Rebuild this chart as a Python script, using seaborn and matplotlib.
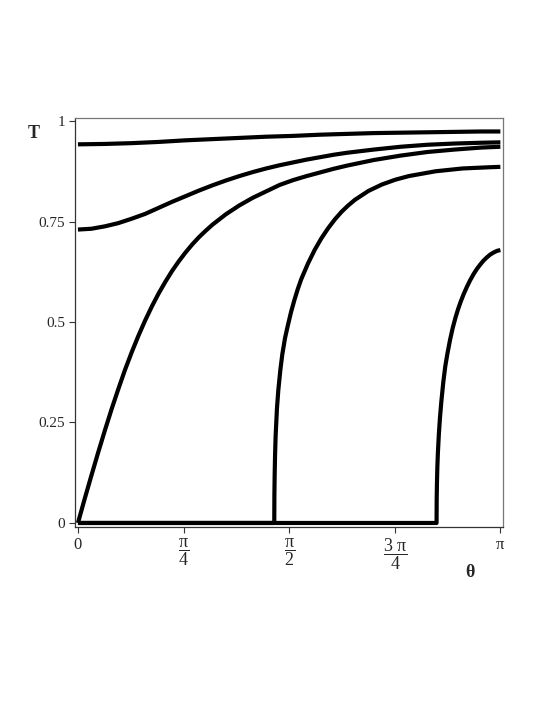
import numpy as np
import pandas as pd
import seaborn as sns
import matplotlib.pyplot as plt

PI = np.pi

# curve readings (theta in rad, T)
th1 = [0.0, 0.2, 0.4, 0.6, 0.8, 1.0, 1.2, 1.4, 1.6, 1.8, 2.0, 2.2, 2.4, 2.6, 2.8,
       3.0, PI]
t1 = [0.942, 0.943, 0.945, 0.948, 0.952, 0.955, 0.958, 0.961, 0.963, 0.966, 0.968,
      0.970, 0.971, 0.972, 0.973, 0.974, 0.974]

th2 = [0.0, 0.1, 0.2, 0.3, 0.4, 0.5, 0.6, 0.7, 0.8, 0.9, 1.0, 1.1, 1.2, 1.3, 1.4,
       1.5, 1.6, 1.7, 1.8, 1.9, 2.0, 2.2, 2.4, 2.6, 2.8, 3.0, PI]
t2 = [0.730, 0.732, 0.738, 0.746, 0.757, 0.769, 0.784, 0.799, 0.813, 0.827, 0.840,
      0.852, 0.863, 0.873, 0.882, 0.890, 0.897, 0.904, 0.910, 0.916, 0.921, 0.929,
      0.936, 0.941, 0.944, 0.946, 0.947]

th3 = [0.0, 0.05, 0.1, 0.15, 0.2, 0.25, 0.3, 0.35, 0.4, 0.45, 0.5, 0.55, 0.6, 0.65,
       0.7, 0.75, 0.8, 0.85, 0.9, 0.95, 1.0, 1.1, 1.2, 1.3, 1.4, 1.5, 1.6, 1.7, 1.8,
       1.9, 2.0, 2.2, 2.4, 2.6, 2.8, 3.0, PI]
t3 = [0.0, 0.060, 0.118, 0.175, 0.230, 0.283, 0.333, 0.381, 0.425, 0.466, 0.504,
      0.539, 0.571, 0.600, 0.627, 0.651, 0.673, 0.693, 0.711, 0.727, 0.742, 0.768,
      0.790, 0.809, 0.825, 0.841, 0.853, 0.863, 0.872, 0.881, 0.889, 0.903, 0.914,
      0.923, 0.929, 0.934, 0.936]

th4 = [0.0, 1.460, 1.461, 1.463, 1.466, 1.470, 1.480, 1.490, 1.505, 1.520, 1.540,
       1.560, 1.585, 1.610, 1.635, 1.660, 1.710, 1.760, 1.810, 1.860, 1.910, 1.960,
       2.010, 2.060, 2.160, 2.260, 2.360, 2.460, 2.660, 2.860, 3.060, PI]
t4 = [0.0, 0.0, 0.070, 0.120, 0.170, 0.215, 0.285, 0.330, 0.380, 0.420, 0.460,
      0.490, 0.525, 0.555, 0.582, 0.606, 0.645, 0.679, 0.708, 0.733, 0.755, 0.774,
      0.790, 0.804, 0.826, 0.842, 0.854, 0.863, 0.875, 0.882, 0.885, 0.886]

th5 = [0.0, 2.667, 2.668, 2.670, 2.673, 2.677, 2.684, 2.692, 2.702, 2.717, 2.732,
       2.747, 2.767, 2.787, 2.807, 2.827, 2.847, 2.867, 2.892, 2.917, 2.942, 2.967,
       2.992, 3.017, 3.042, 3.067, 3.092, 3.117, PI]
t5 = [0.0, 0.0, 0.060, 0.100, 0.140, 0.175, 0.220, 0.260, 0.300, 0.350, 0.390,
      0.420, 0.455, 0.485, 0.510, 0.532, 0.551, 0.568, 0.587, 0.604, 0.619, 0.632,
      0.643, 0.653, 0.661, 0.668, 0.673, 0.677, 0.679]

xtick_vals = [0, PI / 4, PI / 2, 3 * PI / 4, PI]
xtick_labels = ['0', r'$\dfrac{\mathrm{\pi}}{4}$', r'$\dfrac{\mathrm{\pi}}{2}$',
                r'$\dfrac{3\ \mathrm{\pi}}{4}$', 'π']
ytick_vals = [0, 0.25, 0.5, 0.75, 1]
ytick_labels = ['0', '0.25', '0.5', '0.75', '1']

sns.set_style('white')
plt.rcParams['font.family'] = ['Liberation Serif', 'DejaVu Serif']
plt.rcParams['mathtext.fontset'] = 'custom'
plt.rcParams['mathtext.rm'] = 'Liberation Serif'
plt.rcParams['mathtext.it'] = 'Liberation Serif:italic'
plt.rcParams['mathtext.bf'] = 'Liberation Serif:bold'

frames = []
for i, (th, t) in enumerate([(th1, t1), (th2, t2), (th3, t3), (th4, t4), (th5, t5)]):
    frames.append(pd.DataFrame({'theta': th, 'T': t, 'curve': f'c{i}'}))
df = pd.concat(frames, ignore_index=True)

fig = plt.figure(figsize=(5.45, 7.05), dpi=100)
ax = fig.add_axes([0.1376, 0.2525, 0.7853, 0.5801])

sns.lineplot(data=df, x='theta', y='T', hue='curve', palette=['black'] * 5,
             sort=False, estimator=None, linewidth=3, legend=False, ax=ax,
             solid_joinstyle='round', solid_capstyle='butt')

ax.set_xlim(-0.022, 3.161)
ax.set_ylim(-0.01, 1.0075)
ax.set_xticks(xtick_vals, xtick_labels)
ax.set_yticks(ytick_vals, ytick_labels)
ax.tick_params(direction='out', length=4, width=0.8, color='#333333',
               labelsize=11, left=True, bottom=True, pad=3)
for lab in ax.get_xticklabels():
    if 'frac' in lab.get_text():
        lab.set_fontsize(13)
    else:
        lab.set_fontsize(12)
for s in ['left', 'bottom']:
    ax.spines[s].set_color('#333333')
    ax.spines[s].set_linewidth(0.9)
for s in ['top', 'right']:
    ax.spines[s].set_color('#777777')
    ax.spines[s].set_linewidth(0.9)

ax.set_xlabel(None)
ax.set_ylabel(None)
ax.text(0.923, -0.112, 'θ', transform=ax.transAxes, fontsize=13,
        fontweight='bold', ha='center', va='center')
ax.text(-0.096, 0.963, 'T', transform=ax.transAxes, fontsize=13,
        fontweight='bold', ha='center', va='center')

plt.savefig('out.png', dpi=100)
